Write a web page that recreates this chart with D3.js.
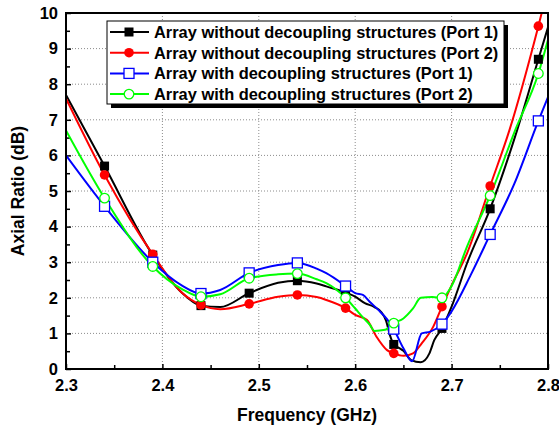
<!DOCTYPE html>
<html>
<head>
<meta charset="utf-8">
<script src="https://cdn.jsdelivr.net/npm/d3@7"></script>
<style>
  body { margin: 0; background: #fff; }
  text { font-family: "Liberation Sans", Arial, sans-serif; font-weight: bold; fill: #000; }
</style>
</head>
<body>
<svg id="chart" width="559" height="429"></svg>
<script>
// Axis ticks
const xTicks = [2.3, 2.4, 2.5, 2.6, 2.7, 2.8];
const xMinorTicks = [2.35, 2.45, 2.55, 2.65, 2.75];
const yTicks = [0, 1, 2, 3, 4, 5, 6, 7, 8, 9, 10];
const yMinorTicks = [0.5, 1.5, 2.5, 3.5, 4.5, 5.5, 6.5, 7.5, 8.5, 9.5];

// Frequencies where symbols are placed
const markerFreqs = [2.34, 2.39, 2.44, 2.49, 2.54, 2.59, 2.64, 2.69, 2.74, 2.79];

const seriesNames = [
  "Array without decoupling structures (Port 1)",
  "Array without decoupling structures (Port 2)",
  "Array with decoupling structures (Port 1)",
  "Array with decoupling structures (Port 2)"
];

// Axial ratio (dB) vs frequency (GHz)
const withoutPort1 = [
  [2.30, 7.70], [2.34, 5.70], [2.39, 3.20], [2.42, 2.15], [2.44, 1.78], [2.46, 1.74],
  [2.49, 2.13], [2.52, 2.42], [2.54, 2.48], [2.56, 2.40], [2.57, 2.32], [2.59, 2.15],
  [2.60, 2.03], [2.61, 1.85], [2.62, 1.74], [2.627, 1.60], [2.632, 1.36], [2.636, 0.95],
  [2.64, 0.69], [2.645, 0.60], [2.65, 0.51], [2.658, 0.25], [2.668, 0.19], [2.677, 0.44],
  [2.682, 0.81], [2.69, 1.14], [2.70, 1.75], [2.716, 2.97], [2.74, 4.50], [2.768, 6.71],
  [2.79, 8.70], [2.80, 9.60]
];
const withoutPort2 = [
  [2.30, 7.60], [2.34, 5.45], [2.39, 3.22], [2.42, 2.15], [2.44, 1.80], [2.46, 1.68],
  [2.49, 1.83], [2.52, 2.03], [2.54, 2.08], [2.56, 2.02], [2.57, 1.94], [2.59, 1.71],
  [2.60, 1.52], [2.612, 1.38], [2.622, 0.91], [2.633, 0.53], [2.64, 0.44], [2.65, 0.37],
  [2.66, 0.44], [2.669, 0.72], [2.681, 1.19], [2.69, 1.75], [2.70, 2.35], [2.716, 3.25],
  [2.74, 5.14], [2.76, 6.71], [2.79, 9.63], [2.80, 10.70]
];
const withPort1 = [
  [2.30, 6.00], [2.34, 4.57], [2.39, 3.00], [2.42, 2.35], [2.44, 2.12], [2.46, 2.22],
  [2.49, 2.70], [2.52, 2.92], [2.54, 2.98], [2.56, 2.82], [2.57, 2.69], [2.59, 2.33],
  [2.60, 2.13], [2.608, 2.08], [2.615, 1.89], [2.624, 1.66], [2.633, 1.40], [2.64, 1.12],
  [2.65, 0.58], [2.659, 0.22], [2.669, 1.00], [2.678, 1.05], [2.69, 1.26], [2.70, 1.62],
  [2.72, 2.65], [2.74, 3.78], [2.765, 5.20], [2.79, 6.97], [2.80, 7.64]
];
const withPort2 = [
  [2.30, 6.70], [2.34, 4.80], [2.39, 2.88], [2.42, 2.25], [2.44, 2.03], [2.46, 2.10],
  [2.49, 2.55], [2.52, 2.66], [2.54, 2.68], [2.56, 2.52], [2.57, 2.41], [2.59, 2.00],
  [2.60, 1.70], [2.608, 1.45], [2.615, 1.25], [2.62, 1.07], [2.631, 1.10], [2.64, 1.29],
  [2.65, 1.42], [2.66, 1.70], [2.668, 2.00], [2.68, 2.02], [2.69, 2.00], [2.70, 2.33],
  [2.716, 3.44], [2.74, 4.87], [2.766, 6.71], [2.79, 8.30], [2.80, 9.25]
];

const seriesColors = ["#000000", "#ff0000", "#0000ff", "#00ff00"];
const seriesSymbols = ["square", "circle", "square", "circle"];
const seriesFilled = [true, true, false, false];
const seriesData = [withoutPort1, withoutPort2, withPort1, withPort2];

const svg = d3.select("#chart");
const plotLeft = 66, plotRight = 548, plotTop = 13, plotBottom = 369;

const x = d3.scaleLinear().domain([2.3, 2.8]).range([plotLeft, plotRight]);
const y = d3.scaleLinear().domain([0, 10]).range([plotBottom, plotTop]);

// Dotted grid
const grid = svg.append("g").attr("stroke", "#8c8c8c").attr("stroke-width", 1)
  .attr("stroke-dasharray", "1,2");
grid.selectAll("line.gx").data(xTicks.slice(1, -1)).join("line").attr("class", "gx")
  .attr("x1", d => x(d)).attr("x2", d => x(d)).attr("y1", plotTop).attr("y2", plotBottom);
grid.selectAll("line.gy").data(yTicks.slice(1, -1)).join("line").attr("class", "gy")
  .attr("x1", plotLeft).attr("x2", plotRight).attr("y1", d => y(d)).attr("y2", d => y(d));

// Axes with inward ticks
const fontFamily = "'Liberation Sans', Arial, sans-serif";
const xAxis = d3.axisBottom(x).tickValues(xTicks).tickSize(-5).tickPadding(10)
  .tickFormat(d3.format(".1f"));
const gx = svg.append("g").attr("transform", `translate(0,${plotBottom})`).call(xAxis);
gx.select(".domain").remove();
gx.selectAll(".tick line").attr("stroke", "#000").attr("stroke-width", 1.5);
gx.selectAll(".tick text").attr("font-size", 16.5).style("font-family", fontFamily).style("font-weight", "bold");
svg.append("g").attr("transform", `translate(0,${plotBottom})`)
  .call(d3.axisBottom(x).tickValues(xMinorTicks).tickSize(-4).tickFormat(""))
  .call(g => g.select(".domain").remove())
  .selectAll(".tick line").attr("stroke", "#000").attr("stroke-width", 1.5);

const yAxis = d3.axisLeft(y).tickValues(yTicks).tickSize(-5).tickPadding(8)
  .tickFormat(d3.format("d"));
const gy = svg.append("g").attr("transform", `translate(${plotLeft},0)`).call(yAxis);
gy.select(".domain").remove();
gy.selectAll(".tick line").attr("stroke", "#000").attr("stroke-width", 1.5);
gy.selectAll(".tick text").attr("font-size", 16.5).style("font-family", fontFamily).style("font-weight", "bold");
svg.append("g").attr("transform", `translate(${plotLeft},0)`)
  .call(d3.axisLeft(y).tickValues(yMinorTicks).tickSize(-4).tickFormat(""))
  .call(g => g.select(".domain").remove())
  .selectAll(".tick line").attr("stroke", "#000").attr("stroke-width", 1.5);

// Plot clip
svg.append("defs").append("clipPath").attr("id", "plotClip")
  .append("rect").attr("x", plotLeft).attr("y", plotTop)
  .attr("width", plotRight - plotLeft).attr("height", plotBottom - plotTop);

const line = d3.line().x(d => x(d[0])).y(d => y(d[1])).curve(d3.curveMonotoneX);

const plot = svg.append("g").attr("clip-path", "url(#plotClip)");

function drawSymbol(g, i, cx, cy) {
  const color = seriesColors[i];
  const fill = seriesFilled[i] ? color : "#fff";
  if (seriesSymbols[i] === "square") {
    const s = seriesFilled[i] ? 9 : 10;
    g.append("rect").attr("x", cx - s / 2).attr("y", cy - s / 2).attr("width", s).attr("height", s)
      .attr("fill", fill).attr("stroke", color).attr("stroke-width", seriesFilled[i] ? 0 : 1.3);
  } else {
    g.append("circle").attr("cx", cx).attr("cy", cy).attr("r", 4.8)
      .attr("fill", fill).attr("stroke", color).attr("stroke-width", seriesFilled[i] ? 0 : 1.3);
  }
}

seriesData.forEach((data, i) => {
  plot.append("path").datum(data).attr("d", line)
    .attr("fill", "none").attr("stroke", seriesColors[i]).attr("stroke-width", 2);
});
seriesData.forEach((data, i) => {
  const g = plot.append("g");
  data.filter(d => markerFreqs.some(f => Math.abs(f - d[0]) < 1e-9))
    .forEach(d => drawSymbol(g, i, x(d[0]), y(d[1])));
});

// Frame
svg.append("rect").attr("x", plotLeft).attr("y", plotTop)
  .attr("width", plotRight - plotLeft).attr("height", plotBottom - plotTop)
  .attr("fill", "none").attr("stroke", "#000").attr("stroke-width", 2);

// Legend with drop shadow
const lg = svg.append("g");
const lx = 107, ly = 21, lw = 397, lh = 83;
lg.append("rect").attr("x", lx + 4).attr("y", ly + 4).attr("width", lw).attr("height", lh).attr("fill", "#000");
lg.append("rect").attr("x", lx).attr("y", ly).attr("width", lw).attr("height", lh)
  .attr("fill", "#fff").attr("stroke", "#000").attr("stroke-width", 1);
seriesNames.forEach((name, i) => {
  const cy = 32 + i * 20.7;
  lg.append("line").attr("x1", 110).attr("x2", 149).attr("y1", cy).attr("y2", cy)
    .attr("stroke", seriesColors[i]).attr("stroke-width", 2);
  drawSymbol(lg, i, 129, cy);
  lg.append("text").attr("x", 154).attr("y", cy).attr("dy", "0.36em")
    .attr("font-size", 16.4).text(name);
});

// Axis titles
svg.append("text").attr("x", (plotLeft + plotRight) / 2).attr("y", 421).attr("text-anchor", "middle")
  .attr("font-size", 17.5).text("Frequency (GHz)");
svg.append("text").attr("transform", `translate(24,${(plotTop + plotBottom) / 2}) rotate(-90)`)
  .attr("text-anchor", "middle").attr("font-size", 17.5).text("Axial Ratio (dB)");
</script>
</body>
</html>
